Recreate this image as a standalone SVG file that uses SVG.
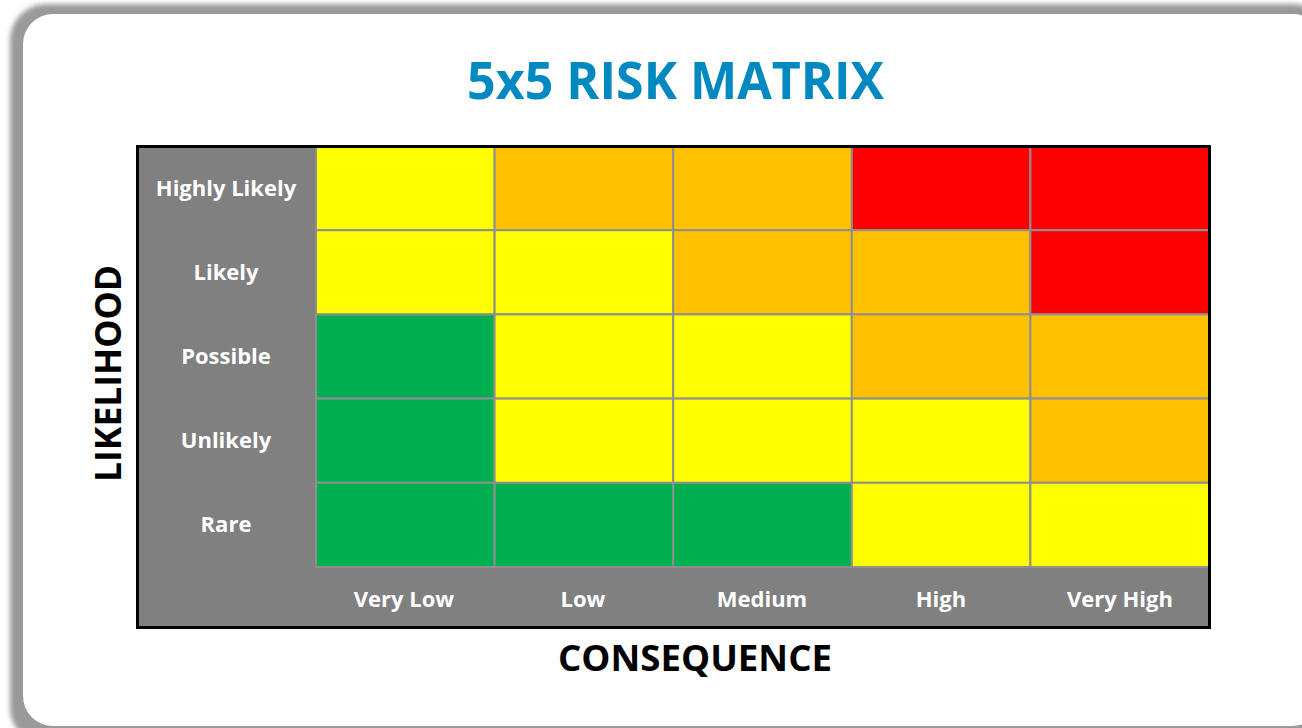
<svg xmlns="http://www.w3.org/2000/svg" width="1302" height="728" viewBox="0 0 1302 728">
  <style>
    .lbl { font-family: "Open Sans", "DejaVu Sans", sans-serif; font-weight: bold; font-size: 22px; fill: #ffffff; text-anchor: middle; }
    .axis { font-family: "Open Sans", "DejaVu Sans", sans-serif; font-weight: bold; font-size: 36px; fill: #000000; text-anchor: middle; }
    .title { font-family: "Open Sans", "DejaVu Sans", sans-serif; font-weight: bold; font-size: 52px; fill: #0088C0; text-anchor: middle; }
    .cell { stroke: #8f8f8f; stroke-width: 2; }
    .y { fill: #FFFF00; }
    .o { fill: #FFC000; }
    .r { fill: #FF0000; }
    .g { fill: #00B050; }
  </style>
  <defs>
    <filter id="blur" x="-5%" y="-5%" width="110%" height="110%">
      <feGaussianBlur stdDeviation="2.5"/>
    </filter>
  </defs>
  <g id="card">
    <rect x="10" y="4" width="1320" height="740" rx="36" fill="#9a9a9a" filter="url(#blur)"/>
    <rect x="23" y="14" width="1300" height="712" rx="30" fill="#ffffff"/>
  </g>
  <g id="title">
    <text class="title" x="675.5" y="99" textLength="417" lengthAdjust="spacingAndGlyphs">5x5 RISK MATRIX</text>
  </g>
  <g id="matrix">
    <rect x="137" y="146" width="1073" height="482" fill="#808080"/>
    <g id="row1">
      <rect class="cell y" x="316" y="146" width="178.6" height="84.2"/>
      <rect class="cell o" x="494.6" y="146" width="178.6" height="84.2"/>
      <rect class="cell o" x="673.2" y="146" width="178.6" height="84.2"/>
      <rect class="cell r" x="851.8" y="146" width="178.6" height="84.2"/>
      <rect class="cell r" x="1030.4" y="146" width="178.6" height="84.2"/>
    </g>
    <g id="row2">
      <rect class="cell y" x="316" y="230.2" width="178.6" height="84.2"/>
      <rect class="cell y" x="494.6" y="230.2" width="178.6" height="84.2"/>
      <rect class="cell o" x="673.2" y="230.2" width="178.6" height="84.2"/>
      <rect class="cell o" x="851.8" y="230.2" width="178.6" height="84.2"/>
      <rect class="cell r" x="1030.4" y="230.2" width="178.6" height="84.2"/>
    </g>
    <g id="row3">
      <rect class="cell g" x="316" y="314.4" width="178.6" height="84.2"/>
      <rect class="cell y" x="494.6" y="314.4" width="178.6" height="84.2"/>
      <rect class="cell y" x="673.2" y="314.4" width="178.6" height="84.2"/>
      <rect class="cell o" x="851.8" y="314.4" width="178.6" height="84.2"/>
      <rect class="cell o" x="1030.4" y="314.4" width="178.6" height="84.2"/>
    </g>
    <g id="row4">
      <rect class="cell g" x="316" y="398.6" width="178.6" height="84.2"/>
      <rect class="cell y" x="494.6" y="398.6" width="178.6" height="84.2"/>
      <rect class="cell y" x="673.2" y="398.6" width="178.6" height="84.2"/>
      <rect class="cell y" x="851.8" y="398.6" width="178.6" height="84.2"/>
      <rect class="cell o" x="1030.4" y="398.6" width="178.6" height="84.2"/>
    </g>
    <g id="row5">
      <rect class="cell g" x="316" y="482.8" width="178.6" height="84.2"/>
      <rect class="cell g" x="494.6" y="482.8" width="178.6" height="84.2"/>
      <rect class="cell g" x="673.2" y="482.8" width="178.6" height="84.2"/>
      <rect class="cell y" x="851.8" y="482.8" width="178.6" height="84.2"/>
      <rect class="cell y" x="1030.4" y="482.8" width="178.6" height="84.2"/>
    </g>
    <rect x="137.5" y="146.5" width="1072" height="481" fill="none" stroke="#000000" stroke-width="3"/>
  </g>
  <g id="row-labels">
    <text class="lbl" x="226" y="195.5">Highly Likely</text>
    <text class="lbl" x="226" y="279.5">Likely</text>
    <text class="lbl" x="226" y="363.5">Possible</text>
    <text class="lbl" x="226" y="448">Unlikely</text>
    <text class="lbl" x="226" y="532">Rare</text>
  </g>
  <g id="col-labels">
    <text class="lbl" x="404" y="607">Very Low</text>
    <text class="lbl" x="583" y="607">Low</text>
    <text class="lbl" x="762" y="607">Medium</text>
    <text class="lbl" x="941" y="607">High</text>
    <text class="lbl" x="1120" y="607">Very High</text>
  </g>
  <g id="axes">
    <text class="axis" transform="translate(121,373.5) rotate(-90)" x="0" y="0" textLength="217" lengthAdjust="spacingAndGlyphs">LIKELIHOOD</text>
    <text class="axis" x="695" y="671" textLength="274" lengthAdjust="spacingAndGlyphs">CONSEQUENCE</text>
  </g>
</svg>
